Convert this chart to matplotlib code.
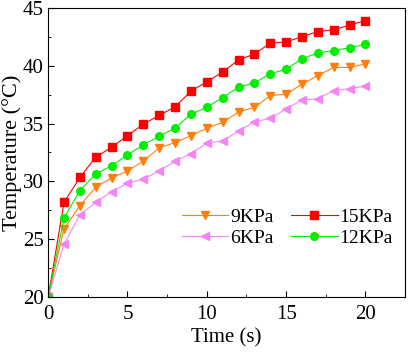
import matplotlib
matplotlib.use("Agg")
import matplotlib.pyplot as plt
from matplotlib.ticker import MultipleLocator

plt.rcParams['font.family'] = ['Liberation Serif', 'DejaVu Serif']
plt.rcParams['font.size'] = 15

time = list(range(0, 21))
t_9kpa = [20, 25.9, 27.9, 29.5, 30.3, 30.9, 31.75, 32.9, 33.35, 33.95, 34.6,
          35.1, 36.0, 36.4, 37.4, 37.55, 38.4, 39.15, 39.85, 39.85, 40.15]
t_15kpa = [20, 28.2, 30.35, 32.1, 32.95, 33.95, 34.95, 35.7, 36.45, 37.8, 38.6,
           39.45, 40.5, 41.0, 41.95, 42.05, 42.5, 42.95, 43.1, 43.5, 43.9]
t_6kpa = [20, 24.6, 27.1, 28.2, 29.1, 29.85, 30.2, 30.9, 31.75, 32.4, 33.3,
          33.5, 34.35, 35.15, 35.45, 36.25, 37.05, 37.15, 37.85, 38.0, 38.25]
t_12kpa = [20, 26.85, 29.2, 30.65, 31.35, 32.3, 33.15, 33.9, 34.6, 35.8, 36.4,
           37.25, 38.15, 38.5, 39.3, 39.7, 40.6, 41.1, 41.3, 41.55, 41.85]

fig = plt.figure(figsize=(4.08, 3.55), dpi=100)
ax = fig.add_axes([0.118, 0.163, 0.875, 0.815])

ms = 5.5
lw = 0.8
l9, = ax.plot(time, t_9kpa, marker='v', color='#FF7F0E', ms=ms, lw=lw, label='9KPa')
l15, = ax.plot(time, t_15kpa, marker='s', color='#FF0000', ms=ms, lw=lw, label='15KPa')
l6, = ax.plot(time, t_6kpa, marker='<', color='#F585F5', ms=ms, lw=lw, label='6KPa')
l12, = ax.plot(time, t_12kpa, marker='o', color='#00EE00', ms=ms, lw=lw, label='12KPa')

ax.set_xlim(0, 22.5)
ax.set_ylim(20, 45)
ax.xaxis.set_major_locator(MultipleLocator(5))
ax.xaxis.set_minor_locator(MultipleLocator(2.5))
ax.yaxis.set_major_locator(MultipleLocator(5))
ax.yaxis.set_minor_locator(MultipleLocator(2.5))
ax.tick_params(which='both', direction='in', labelsize=15)
ax.tick_params(which='major', length=4)
ax.tick_params(which='minor', length=2.5)
ax.tick_params(axis='x', which='major', pad=6)
ax.tick_params(axis='y', which='major', pad=3)

ax.set_xlabel("Time (s)", fontsize=15, labelpad=3)
ax.set_ylabel("Temperature (\u00b0C)", fontsize=16, labelpad=1)

ax.legend(handles=[l9, l6, l15, l12], ncol=2, frameon=False,
          loc='center', bbox_to_anchor=(0.67, 0.24),
          handlelength=2.4, columnspacing=0.9, handletextpad=0.1,
          labelspacing=0.2, fontsize=14)

fig.savefig("out.png", dpi=100)
